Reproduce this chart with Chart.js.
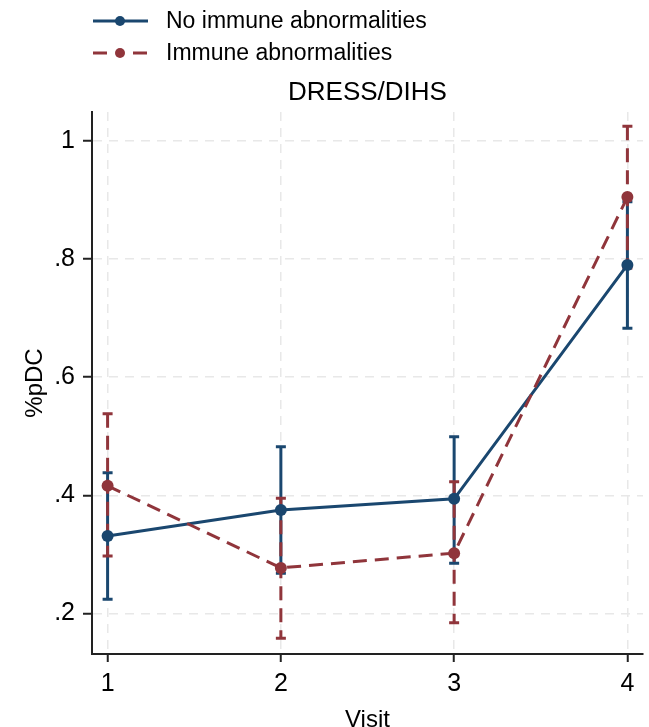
<!DOCTYPE html>
<html>
<head>
<meta charset="utf-8">
<script src="https://cdn.jsdelivr.net/npm/chart.js@4.4.1/dist/chart.umd.min.js"></script>
<style>
  html, body { margin: 0; padding: 0; background: #ffffff; }
  #wrap { width: 649px; height: 727px; }
</style>
</head>
<body>
<div id="wrap"><canvas id="c" width="649" height="727"></canvas></div>
<script>
// ---- data ----
const visits = [1, 2, 3, 4];
const xTickLabels = ["1", "2", "3", "4"];
const yTickValues = [0.2, 0.4, 0.6, 0.8, 1.0];
const yTickLabels = [".2", ".4", ".6", ".8", "1"];

const seriesNames = ["No immune abnormalities", "Immune abnormalities"];
const noImmuneMean = [0.331, 0.375, 0.394, 0.790];
const noImmuneLow  = [0.224, 0.268, 0.285, 0.683];
const noImmuneHigh = [0.438, 0.482, 0.499, 0.897];
const immuneMean = [0.416, 0.277, 0.302, 0.905];
const immuneLow  = [0.297, 0.158, 0.184, 0.785];
const immuneHigh = [0.538, 0.395, 0.423, 1.025];

const titleText = "DRESS/DIHS";
const xTitle = "Visit";
const yTitle = "%pDC";

// ---- styles ----
const BLUE = "#1a476f";
const RED = "#90353b";
const FONT = '"Liberation Sans", Arial, Helvetica, sans-serif';
const DASH = [14, 8];

const toPts = (ys) => visits.map((v, i) => ({ x: v, y: ys[i] }));

const errorBarSets = [
  { low: noImmuneLow, high: noImmuneHigh, color: BLUE, dash: [] },
  { low: immuneLow, high: immuneHigh, color: RED, dash: DASH }
];

const errorBarPlugin = {
  id: "errorBars",
  beforeDatasetsDraw(chart) {
    const { ctx, scales } = chart;
    const xs = scales.x, ys = scales.y;
    ctx.save();
    errorBarSets.forEach(s => {
      ctx.strokeStyle = s.color;
      ctx.lineWidth = 3;
      visits.forEach((v, i) => {
        const px = xs.getPixelForValue(v);
        const pLo = ys.getPixelForValue(s.low[i]);
        const pHi = ys.getPixelForValue(s.high[i]);
        ctx.setLineDash(s.dash);
        ctx.beginPath();
        ctx.moveTo(px, pHi);
        ctx.lineTo(px, pLo);
        ctx.stroke();
        ctx.setLineDash([]);
        ctx.beginPath();
        ctx.moveTo(px - 5, pHi); ctx.lineTo(px + 5, pHi);
        ctx.moveTo(px - 5, pLo); ctx.lineTo(px + 5, pLo);
        ctx.stroke();
      });
    });
    ctx.restore();
  }
};

const legendPlugin = {
  id: "stackLegend",
  afterDraw(chart) {
    const ctx = chart.ctx;
    const items = [
      { name: seriesNames[0], color: BLUE, dashed: false, y: 21 },
      { name: seriesNames[1], color: RED, dashed: true, y: 53 }
    ];
    ctx.save();
    items.forEach(it => {
      ctx.strokeStyle = it.color;
      ctx.fillStyle = it.color;
      ctx.lineWidth = 3;
      ctx.setLineDash(it.dashed ? [14, 26] : []);
      ctx.beginPath();
      ctx.moveTo(93, it.y);
      ctx.lineTo(148, it.y);
      ctx.stroke();
      ctx.setLineDash([]);
      ctx.beginPath();
      ctx.arc(120, it.y, 5, 0, Math.PI * 2);
      ctx.fill();
      ctx.fillStyle = "#000000";
      ctx.font = "23px " + FONT;
      ctx.textBaseline = "middle";
      ctx.textAlign = "left";
      ctx.fillText(it.name, 166, it.y + 1);
    });
    ctx.restore();
  }
};

new Chart(document.getElementById("c"), {
  type: "line",
  data: {
    datasets: [
      {
        label: seriesNames[0],
        data: toPts(noImmuneMean),
        borderColor: BLUE,
        backgroundColor: BLUE,
        borderWidth: 3,
        pointRadius: 6,
        pointBackgroundColor: BLUE,
        pointBorderWidth: 0,
        tension: 0,
        order: 2
      },
      {
        label: seriesNames[1],
        data: toPts(immuneMean),
        borderColor: RED,
        backgroundColor: RED,
        borderWidth: 3,
        borderDash: DASH,
        pointRadius: 6,
        pointBackgroundColor: RED,
        pointBorderWidth: 0,
        tension: 0,
        order: 1
      }
    ]
  },
  options: {
    responsive: false,
    animation: false,
    events: [],
    layout: { padding: { top: 77.4, left: 0, right: 3, bottom: -7.8 } },
    plugins: {
      legend: { display: false },
      title: { display: false },
      tooltip: { enabled: false }
    },
    scales: {
      x: {
        type: "linear",
        position: "bottom",
        min: 0.91,
        max: 4.09,
        afterBuildTicks: (s) => { s.ticks = visits.map(v => ({ value: v })); },
        ticks: {
          callback: (v) => { const i = visits.indexOf(v); return i >= 0 ? xTickLabels[i] : ""; },
          font: { family: FONT, size: 25 },
          color: "#000000",
          padding: 7,
          maxRotation: 0,
          autoSkip: false
        },
        grid: {
          color: "#e8e8e8",
          lineWidth: 1.5,
          drawTicks: true,
          tickLength: 8,
          tickColor: "#222222",
          tickWidth: 2,
          tickBorderDash: []
        },
        border: { display: true, color: "#222222", width: 2, dash: [9, 7] },
        title: {
          display: true,
          text: xTitle,
          font: { family: FONT, size: 24 },
          color: "#000000",
          padding: { top: 0, bottom: 0 }
        }
      },
      x2: {
        type: "linear",
        position: "top",
        min: 0,
        max: 1,
        display: true,
        grid: { display: false, drawTicks: false },
        ticks: { display: false },
        border: { display: false },
        title: {
          display: true,
          text: titleText,
          font: { family: FONT, size: 26 },
          color: "#000000",
          padding: { top: 0, bottom: 3.4 }
        }
      },
      y: {
        type: "linear",
        position: "left",
        min: 0.1312,
        max: 1.049,
        afterBuildTicks: (s) => { s.ticks = yTickValues.map(v => ({ value: v })); },
        ticks: {
          callback: (v) => {
            const i = yTickValues.findIndex(t => Math.abs(t - v) < 1e-9);
            return i >= 0 ? yTickLabels[i] : "";
          },
          font: { family: FONT, size: 25 },
          color: "#000000",
          padding: 8,
          autoSkip: false
        },
        grid: {
          color: "#e8e8e8",
          lineWidth: 1.5,
          drawTicks: true,
          tickLength: 9,
          tickColor: "#222222",
          tickWidth: 2,
          tickBorderDash: []
        },
        border: { display: true, color: "#222222", width: 2, dash: [9, 7] },
        title: {
          display: true,
          text: yTitle,
          font: { family: FONT, size: 24 },
          color: "#000000",
          padding: { top: 20.6, bottom: -3.25 }
        }
      }
    }
  },
  plugins: [errorBarPlugin, legendPlugin]
});
</script>
</body>
</html>
